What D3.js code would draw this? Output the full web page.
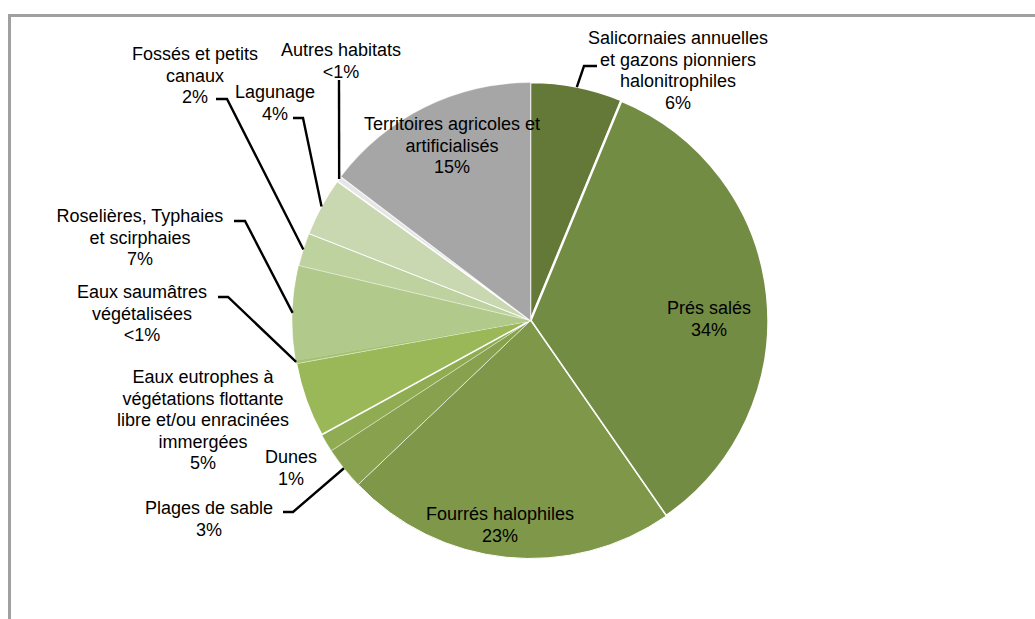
<!DOCTYPE html>
<html>
<head>
<meta charset="utf-8">
<script src="https://cdn.jsdelivr.net/npm/d3@7"></script>
<style>
  html, body { margin: 0; padding: 0; background: #fff; }
  svg { display: block; }
  text { font-family: "Liberation Sans", Arial, sans-serif; fill: #000; }
</style>
</head>
<body>
<svg id="chart" width="1035" height="619"></svg>
<script>
// Habitat categories, clockwise from 12 o'clock
const categories = [
  "Salicornaies annuelles et gazons pionniers halonitrophiles",
  "Prés salés",
  "Fourrés halophiles",
  "Plages de sable",
  "Dunes",
  "Eaux eutrophes à végétations flottante libre et/ou enracinées immergées",
  "Eaux saumâtres végétalisées",
  "Roselières, Typhaies et scirphaies",
  "Fossés et petits canaux",
  "Lagunage",
  "Autres habitats",
  "Territoires agricoles et artificialisés"
];

// Share of surface (%)
const values = [6.25, 34.2, 22.6, 2.9, 1.25, 5.1, 0.2, 6.4, 2.25, 4.0, 0.4, 14.7];

// Percentage text shown under each label
const percentLabels = ["6%", "34%", "23%", "3%", "1%", "5%", "<1%", "7%", "2%", "4%", "<1%", "15%"];

// Label line breaks
const labelLines = [
  ["Salicornaies annuelles", "et gazons pionniers", "halonitrophiles"],
  ["Prés salés"],
  ["Fourrés halophiles"],
  ["Plages de sable"],
  ["Dunes"],
  ["Eaux eutrophes à", "végétations flottante", "libre et/ou enracinées", "immergées"],
  ["Eaux saumâtres", "végétalisées"],
  ["Roselières, Typhaies", "et scirphaies"],
  ["Fossés et petits", "canaux"],
  ["Lagunage"],
  ["Autres habitats"],
  ["Territoires agricoles et", "artificialisés"]
];

// Slice fills
const palette = ["#647838", "#738c43", "#7e9749", "#87a14e", "#8fac52", "#9ab857",
                 "#a6c172", "#b1c98b", "#bed2a0", "#c9d8b1", "#e6e6e6", "#a6a6a6"];
// Slice outline widths
const strokeWidths = [1.5, 2.5, 1, 0.4, 0.4, 1.5, 0, 0, 0.5, 1, 1.5, 0.4];

// Label layout: centre x, first line centre y, and leader line (label-side points)
const labelLayout = [
  { x: 678, y: 38,  leader: [[597, 66], [584, 66]] },
  { x: 709, y: 308, leader: null },
  { x: 500, y: 514, leader: null },
  { x: 209, y: 508, leader: [[283, 512], [293, 512]] },
  { x: 291, y: 457, leader: null },
  { x: 203, y: 377, leader: null },
  { x: 142, y: 292, leader: [[218, 297], [228, 297]] },
  { x: 140, y: 216, leader: [[234, 221], [245, 221]] },
  { x: 195, y: 54,  leader: [[216, 99], [227, 99]] },
  { x: 275, y: 92,  leader: [[293, 118], [303, 118]] },
  { x: 341, y: 50,  leader: [[339, 80]] },
  { x: 452, y: 124, leader: null }
];

const svg = d3.select("#chart");
const cx = 530.5, cy = 320.5, radius = 238;
const lineHeight = 21.5;

// Outer frame
svg.append("rect")
  .attr("x", 9.5).attr("y", 15.5)
  .attr("width", 1100).attr("height", 700)
  .attr("fill", "none")
  .attr("stroke", "#a0a0a0")
  .attr("stroke-width", 3);

const data = categories.map((c, i) => ({ name: c, value: values[i], i }));

const pie = d3.pie().sort(null).value(d => d.value)
  .startAngle(0).endAngle(2 * Math.PI);
const arcs = pie(data);

const arc = d3.arc().innerRadius(0).outerRadius(radius);
const rim = d3.arc().innerRadius(radius).outerRadius(radius);

const g = svg.append("g").attr("transform", `translate(${cx},${cy})`);

g.selectAll("path.slice")
  .data(arcs)
  .join("path")
  .attr("class", "slice")
  .attr("d", arc)
  .attr("fill", d => palette[d.data.i])
  .attr("stroke", d => strokeWidths[d.data.i] > 0 ? "#fff" : palette[d.data.i])
  .attr("stroke-width", d => strokeWidths[d.data.i] > 0 ? strokeWidths[d.data.i] : 0.5)
  .attr("stroke-linejoin", "round");

// Leader lines from labels to the slice rim
arcs.forEach(d => {
  const lay = labelLayout[d.data.i];
  if (!lay.leader) return;
  const [px, py] = rim.centroid(d);
  const pts = lay.leader.concat([[px + cx, py + cy]]);
  svg.append("polyline")
    .attr("points", pts.map(p => p.join(",")).join(" "))
    .attr("fill", "none")
    .attr("stroke", "#000")
    .attr("stroke-width", 2.4);
});

// Labels
arcs.forEach(d => {
  const i = d.data.i;
  const lay = labelLayout[i];
  const lines = labelLines[i].concat([percentLabels[i]]);
  const t = svg.append("text")
    .attr("text-anchor", "middle")
    .attr("font-size", 18);
  lines.forEach((ln, k) => {
    t.append("tspan")
      .attr("x", lay.x)
      .attr("y", lay.y + k * lineHeight)
      .attr("dy", "0.35em")
      .text(ln);
  });
});
</script>
</body>
</html>
